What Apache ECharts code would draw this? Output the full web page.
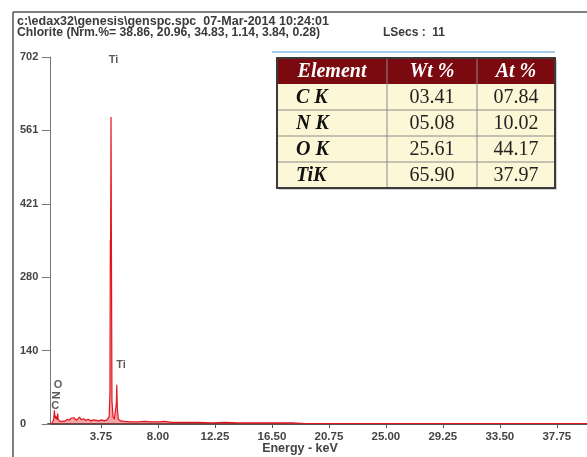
<!DOCTYPE html>
<html><head><meta charset="utf-8">
<script src="https://cdn.jsdelivr.net/npm/echarts@6/dist/echarts.min.js"></script>
<style>html,body{margin:0;background:#fff}#c{width:587px;height:457px}</style>
</head><body><div id="c"></div>
<script>
// ---- data ----
var headerLine1 = 'c:\\edax32\\genesis\\genspc.spc  07-Mar-2014 10:24:01';
var headerLine2 = 'Chlorite (Nrm.%= 38.86, 20.96, 34.83, 1.14, 3.84, 0.28)';
var lsecsText = 'LSecs :  11';
var xTicks = [3.75, 8.00, 12.25, 16.50, 20.75, 25.00, 29.25, 33.50, 37.75];
var yTickLabels = ['0', '140', '280', '421', '561', '702'];
var yMax = 702;
var energyKeV = [0.05, 0.15, 0.22, 0.28, 0.31, 0.36, 0.39, 0.43, 0.48, 0.52, 0.56, 0.62, 0.70, 0.80, 0.90, 1.00, 1.10, 1.25, 1.40, 1.50, 1.60, 1.75, 1.90, 2.00, 2.15, 2.30, 2.45, 2.60, 2.80, 3.00, 3.20, 3.40, 3.60, 3.80, 4.00, 4.20, 4.36, 4.42, 4.45, 4.47, 4.50, 4.53, 4.57, 4.65, 4.75, 4.84, 4.90, 4.93, 4.97, 5.05, 5.20, 5.50, 6.00, 6.50, 7.00, 7.50, 8.00, 8.50, 9.00, 10.0, 11.0, 12.0, 13.0, 14.0, 15.0, 16.0, 17.0, 18.0, 19.0, 20.0, 22.0, 25.0, 30.0, 35.0, 40.0];
var counts    = [0, 3, 8, 26, 12, 16, 10, 14, 8, 20, 9, 6, 5, 7, 5, 8, 6, 9, 7, 11, 8, 12, 7, 9, 13, 8, 10, 7, 9, 6, 8, 7, 6, 8, 6, 8, 14, 60, 352, 330, 587, 340, 45, 14, 9, 12, 40, 75, 30, 9, 6, 5, 4, 4, 5, 4, 4, 5, 3, 3, 3, 2, 3, 2, 2, 2, 2, 2, 1, 1, 1, 1, 1, 1, 1];
var peakLabelE = [4.68, 5.25, 0.55, 0.50, 0.33];
var peakLabelC = [696, 113, 74, 55, 34];
var peakLabelT = ['Ti', 'Ti', 'O', 'N', 'C'];
var tableHead = ['Element', 'Wt %', 'At %'];
var tableElem = ['C K', 'N K', 'O K', 'TiK'];
var tableWt = ['03.41', '05.08', '25.61', '65.90'];
var tableAt = ['07.84', '10.02', '44.17', '37.97'];

// ---- chart ----
var chart = echarts.init(document.getElementById('c'), null, {renderer: 'canvas'});
var spec = energyKeV.map(function (e, i) { return [e, counts[i]]; });
var lbls = peakLabelE.map(function (e, i) {
  return {value: [e, peakLabelC[i]], label: {rotate: peakLabelT[i] === 'N' ? 90 : 0}};
});
var axisFontX = {fontFamily: 'Liberation Sans', fontWeight: 'bold', fontSize: 11.5, color: '#444'};
var axisFontY = {fontFamily: 'Liberation Sans', fontWeight: 'bold', fontSize: 11, color: '#444'};

// table graphics
var tx = [277, 387, 477, 555];
var ty = [58, 84, 110, 136, 162, 188];
var g = [];
g.push({type: 'rect', shape: {x: tx[0] + 2, y: ty[0] + 2, width: tx[3] - tx[0], height: ty[5] - ty[0]}, style: {fill: '#cfcfcf'}, z: 10});
g.push({type: 'rect', shape: {x: tx[0], y: ty[0], width: tx[3] - tx[0], height: ty[1] - ty[0]}, style: {fill: '#7a0a10'}, z: 11});
g.push({type: 'rect', shape: {x: tx[0], y: ty[1], width: tx[3] - tx[0], height: ty[5] - ty[1]}, style: {fill: '#fcf7d6'}, z: 11});
for (var r = 2; r < 5; r++) g.push({type: 'line', shape: {x1: tx[0], y1: ty[r], x2: tx[3], y2: ty[r]}, style: {stroke: '#8a8a8a', lineWidth: 1}, z: 12});
for (var c = 1; c < 3; c++) g.push({type: 'line', shape: {x1: tx[c], y1: ty[0], x2: tx[c], y2: ty[5]}, style: {stroke: '#8a8a8a', lineWidth: 1}, z: 12});
g.push({type: 'rect', shape: {x: tx[0], y: ty[0], width: tx[3] - tx[0], height: ty[5] - ty[0]}, style: {fill: null, stroke: '#3a3a3a', lineWidth: 2}, z: 13});
g.push({type: 'line', shape: {x1: 272, y1: 52, x2: 555, y2: 52}, style: {stroke: '#a9cdef', lineWidth: 2}, z: 13});
for (var c2 = 0; c2 < 3; c2++) {
  g.push({type: 'text', x: (tx[c2] + tx[c2 + 1]) / 2, y: (ty[0] + ty[1]) / 2 + 1, style: {text: tableHead[c2], fill: '#fff', font: 'italic bold 20px "Liberation Serif"', align: 'center', verticalAlign: 'middle'}, z: 14});
}
for (var r2 = 0; r2 < 4; r2++) {
  var cy = (ty[r2 + 1] + ty[r2 + 2]) / 2 + 1;
  g.push({type: 'text', x: 296, y: cy, style: {text: tableElem[r2], fill: '#111', font: 'italic bold 20px "Liberation Serif"', align: 'left', verticalAlign: 'middle'}, z: 14});
  g.push({type: 'text', x: (tx[1] + tx[2]) / 2, y: cy, style: {text: tableWt[r2], fill: '#222', font: '20px "Liberation Serif"', align: 'center', verticalAlign: 'middle'}, z: 14});
  g.push({type: 'text', x: (tx[2] + tx[3]) / 2, y: cy, style: {text: tableAt[r2], fill: '#222', font: '20px "Liberation Serif"', align: 'center', verticalAlign: 'middle'}, z: 14});
}
// frame + header texts
g.push({type: 'line', shape: {x1: 13, y1: 12, x2: 587, y2: 12}, style: {stroke: '#555', lineWidth: 1.5}});
g.push({type: 'line', shape: {x1: 13, y1: 12, x2: 13, y2: 457}, style: {stroke: '#555', lineWidth: 1.5}});
g.push({type: 'text', x: 17, y: 22, style: {text: headerLine1, fill: '#3a3a3a', font: 'bold 12.5px "Liberation Sans"', verticalAlign: 'middle'}});
g.push({type: 'text', x: 17, y: 32.5, style: {text: headerLine2, fill: '#3a3a3a', font: 'bold 12.2px "Liberation Sans"', verticalAlign: 'middle'}});
g.push({type: 'text', x: 383, y: 33, style: {text: lsecsText, fill: '#3a3a3a', font: 'bold 12px "Liberation Sans"', verticalAlign: 'middle'}});
g.push({type: 'text', x: 300, y: 449, style: {text: 'Energy - keV', fill: '#444', font: 'bold 12.5px "Liberation Sans"', align: 'center', verticalAlign: 'middle'}});

chart.setOption({
  animation: false,
  backgroundColor: '#fff',
  grid: {left: 48, right: 0, top: 57, bottom: 33, containLabel: false},
  xAxis: {
    type: 'value', min: -0.2, max: 40,
    axisLine: {show: true, onZero: false, lineStyle: {color: '#555', width: 2}},
    axisTick: {show: true, length: 4, customValues: xTicks, lineStyle: {color: '#555'}},
    axisLabel: Object.assign({margin: 7, customValues: xTicks, formatter: function (v) { return v.toFixed(2); }}, axisFontX),
    splitLine: {show: false}
  },
  yAxis: {
    type: 'value', min: 0, max: yMax, interval: yMax / 5,
    axisLine: {show: true, lineStyle: {color: '#777', width: 1}},
    axisTick: {show: true, length: 9, lineStyle: {color: '#777'}},
    axisLabel: Object.assign({align: 'left', margin: 28, formatter: function (v) { return yTickLabels[Math.round(v / (yMax / 5))]; }}, axisFontY),
    splitLine: {show: false}
  },
  series: [
    {type: 'line', data: spec, symbol: 'none', lineStyle: {color: '#e3141c', width: 1.2},
     areaStyle: {color: 'rgba(227,20,28,0.55)'}, z: 3},
    {type: 'scatter', data: lbls, symbolSize: 0, z: 5,
     label: {show: true, position: 'inside', formatter: function (p) { return peakLabelT[p.dataIndex]; },
       fontFamily: 'Liberation Sans', fontWeight: 'bold', fontSize: 11, color: '#333'}}
  ],
  graphic: g
});
</script></body></html>
